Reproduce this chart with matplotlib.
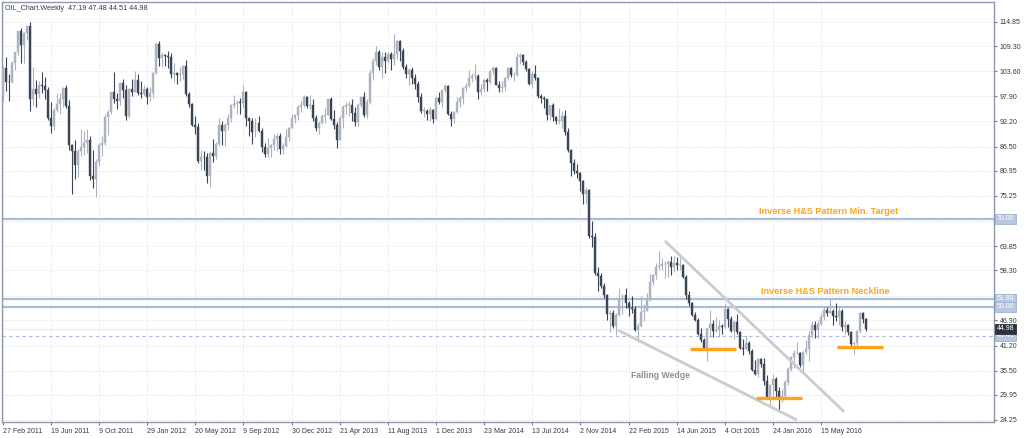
import matplotlib
matplotlib.use("Agg")
import matplotlib.pyplot as plt
import matplotlib.transforms as mtransforms

plt.rcParams['font.family'] = ['Liberation Sans', 'DejaVu Sans']

# weekly OIL candles, first week starts 27 Feb 2011
first_open = 97.9
closes = [
    104.4, 101.2, 101.1, 105.4, 107.9, 112.8, 109.7, 112.3, 113.9, 97.2,
    99.65, 98.4, 100.6, 100.2, 99.3, 93.0, 91.2, 94.9, 96.2, 97.2,
    99.9, 95.7, 86.9, 85.4, 82.3, 85.4, 86.5, 87.2, 88.0, 79.85,
    79.2, 83.0, 86.8, 87.4, 93.3, 94.3, 99.0, 97.4, 96.8, 101.0,
    99.4, 93.5, 99.7, 98.8, 101.6, 98.7, 98.5, 99.6, 97.8, 98.7,
    103.2, 109.8, 106.7, 107.4, 107.1, 106.9, 103.0, 103.3, 102.8, 103.1,
    104.9, 98.5, 96.1, 91.5, 90.9, 83.2, 84.1, 84.0, 79.8, 85.0,
    84.45, 87.1, 91.4, 90.1, 91.4, 92.9, 96.0, 96.2, 96.5, 96.4,
    99.0, 92.9, 92.2, 89.9, 91.9, 90.05, 86.3, 84.9, 86.1, 86.9,
    88.3, 88.9, 85.9, 86.7, 88.7, 90.8, 93.1, 93.6, 95.6, 95.9,
    97.8, 95.7, 95.9, 93.1, 90.7, 91.95, 93.45, 93.7, 97.2, 92.7,
    91.3, 88.0, 93.0, 95.6, 96.0, 96.0, 94.2, 92.0, 96.0, 97.85,
    93.7, 96.6, 103.2, 105.95, 108.05, 104.7, 106.9, 106.0, 107.5, 106.4,
    107.65, 110.5, 108.2, 104.7, 102.9, 103.8, 102.0, 100.8, 97.85, 94.6,
    94.6, 93.8, 94.8, 92.7, 97.65, 96.6, 99.3, 100.3, 93.96, 92.7,
    94.4, 96.6, 97.5, 99.9, 100.3, 102.2, 102.6, 102.6, 98.9, 99.5,
    101.7, 101.1, 103.7, 104.3, 100.6, 99.8, 100.0, 102.0, 104.35, 102.7,
    102.7, 106.9, 107.3, 105.7, 104.1, 100.8, 103.1, 102.1, 97.9, 97.65,
    97.35, 93.65, 95.96, 93.3, 92.3, 92.4, 93.5, 89.7, 85.8, 82.75,
    81.0, 80.5, 78.65, 75.8, 76.5, 66.15, 65.8, 57.8, 57.1, 54.7,
    52.7, 48.4, 48.7, 45.6, 48.2, 51.7, 52.8, 50.8, 49.8, 49.6,
    44.8, 45.7, 48.9, 49.1, 51.6, 55.7, 57.15, 59.15, 59.4, 59.7,
    59.7, 60.3, 59.1, 59.96, 59.6, 59.6, 56.9, 52.7, 50.9, 48.1,
    47.1, 43.9, 42.5, 40.45, 45.2, 46.05, 44.6, 44.7, 45.7, 45.5,
    49.6, 47.3, 44.6, 46.6, 44.3, 40.7, 40.4, 41.7, 39.97, 35.6,
    34.7, 38.1, 37.0, 33.2, 29.4, 32.2, 33.6, 30.9, 29.4, 29.6,
    32.8, 35.9, 38.5, 39.4, 39.5, 36.8, 39.7, 40.4, 43.7, 45.9,
    44.7, 46.2, 47.75, 49.3, 48.6, 49.1, 47.98, 47.6, 48.99, 45.4,
    45.95, 44.2, 41.6, 41.8, 44.5, 48.5, 47.19, 44.98,
]
highs = [
    104.9, 106.95, 103.0, 106.0, 108.0, 112.9, 113.5, 112.5, 114.0, 114.8,
    104.6, 101.6, 101.5, 103.4, 102.4, 100.0, 96.6, 95.3, 98.7, 98.7,
    100.0, 100.6, 97.0, 87.0, 88.0, 86.0, 90.5, 90.0, 90.5, 88.9,
    85.6, 83.6, 87.4, 89.0, 94.0, 94.7, 99.0, 103.4, 98.6, 101.2,
    101.8, 100.6, 99.8, 101.8, 103.7, 103.0, 101.5, 100.4, 100.0, 100.0,
    103.4, 109.95, 110.55, 108.0, 107.5, 108.3, 107.7, 105.5, 103.5, 104.7,
    105.0, 106.3, 98.9, 96.4, 93.4, 91.8, 85.6, 85.5, 85.0, 85.4,
    88.1, 87.5, 92.9, 92.2, 91.8, 94.0, 96.2, 98.3, 97.0, 97.6,
    100.4, 99.2, 93.0, 93.0, 93.0, 93.4, 90.6, 87.4, 88.5, 87.0,
    89.3, 89.6, 89.5, 87.4, 90.5, 91.0, 93.8, 94.0, 96.0, 96.9,
    98.2, 98.0, 98.2, 97.4, 93.6, 92.2, 93.9, 95.3, 97.3, 97.8,
    94.9, 92.0, 93.5, 95.9, 96.6, 96.8, 97.4, 95.6, 96.5, 97.9,
    99.0, 97.2, 103.9, 106.6, 109.3, 108.5, 108.0, 107.9, 108.0, 107.9,
    112.2, 110.7, 110.8, 108.9, 105.3, 104.3, 104.6, 103.0, 101.3, 98.6,
    95.4, 95.0, 95.5, 95.0, 97.9, 98.8, 99.4, 100.8, 100.5, 94.5,
    94.6, 97.8, 98.0, 100.0, 101.0, 103.8, 103.2, 105.2, 102.9, 100.8,
    101.8, 102.0, 104.0, 104.9, 104.6, 101.3, 101.4, 102.3, 104.5, 104.6,
    103.5, 107.7, 107.7, 107.5, 106.2, 104.4, 103.7, 105.0, 102.3, 98.5,
    98.1, 97.4, 96.0, 96.3, 93.5, 95.2, 94.6, 94.9, 90.6, 86.0,
    83.7, 82.6, 80.8, 78.9, 77.2, 76.9, 69.6, 66.7, 59.0, 57.8,
    55.5, 53.0, 49.3, 49.2, 48.6, 54.2, 53.0, 54.2, 51.3, 52.5,
    50.3, 46.3, 52.5, 50.7, 53.1, 57.4, 57.4, 59.9, 62.6, 61.2,
    60.5, 60.6, 61.6, 61.6, 61.3, 61.3, 59.7, 57.2, 53.5, 51.0,
    48.9, 47.4, 45.2, 42.8, 45.3, 49.3, 46.9, 47.7, 47.1, 46.0,
    50.9, 49.7, 47.9, 47.0, 48.4, 44.6, 42.7, 43.5, 42.3, 40.4,
    38.0, 38.3, 38.4, 38.4, 34.6, 32.4, 34.8, 34.0, 31.7, 31.3,
    33.3, 36.2, 38.7, 40.2, 41.9, 39.8, 39.9, 42.4, 44.5, 46.8,
    46.7, 47.0, 48.6, 50.2, 50.0, 51.7, 49.4, 50.8, 49.9, 49.4,
    46.7, 46.1, 44.6, 42.0, 44.8, 48.75, 48.9, 47.48,
]
lows = [
    96.9, 99.2, 96.8, 101.0, 103.9, 107.3, 105.5, 105.4, 110.8, 94.6,
    96.0, 95.6, 97.5, 98.6, 97.3, 92.5, 89.6, 90.3, 94.4, 93.8,
    95.6, 95.3, 85.6, 75.7, 79.2, 79.5, 84.3, 84.6, 85.0, 78.9,
    77.1, 74.95, 82.1, 84.4, 86.8, 89.2, 94.0, 96.3, 95.0, 96.0,
    97.5, 92.5, 93.1, 98.0, 98.8, 98.3, 97.5, 97.9, 96.1, 96.8,
    97.6, 103.0, 104.8, 104.5, 104.8, 104.4, 102.1, 101.2, 100.7, 101.5,
    101.9, 98.0, 95.4, 91.2, 89.3, 82.8, 81.2, 81.1, 78.2, 77.3,
    82.9, 83.6, 86.7, 86.9, 86.7, 90.3, 92.1, 95.3, 93.8, 93.9,
    95.5, 91.2, 88.9, 87.0, 88.6, 89.7, 85.3, 84.1, 84.1, 84.05,
    85.6, 85.5, 84.9, 84.7, 86.5, 87.8, 90.6, 91.9, 92.6, 94.4,
    95.4, 95.2, 95.0, 92.2, 90.1, 89.3, 91.7, 91.8, 93.6, 92.5,
    90.5, 86.1, 87.9, 90.6, 93.9, 93.4, 92.4, 91.1, 91.2, 95.5,
    93.3, 93.1, 96.2, 101.6, 105.1, 103.8, 102.2, 103.2, 105.4, 103.9,
    105.1, 106.4, 105.9, 104.2, 102.2, 100.6, 100.8, 99.7, 96.7, 94.1,
    93.2, 92.5, 92.2, 91.8, 92.5, 96.1, 95.3, 98.8, 93.7, 91.2,
    91.8, 94.1, 95.6, 96.1, 99.0, 100.0, 101.2, 101.7, 97.4, 98.2,
    98.9, 99.2, 100.7, 103.1, 100.5, 98.9, 98.8, 99.2, 101.7, 102.3,
    101.4, 102.6, 105.3, 105.1, 103.6, 100.5, 99.8, 101.7, 97.5, 96.5,
    95.2, 92.5, 92.5, 92.4, 91.7, 91.6, 90.6, 89.2, 85.2, 79.8,
    80.3, 79.4, 76.4, 73.3, 73.6, 65.7, 63.7, 57.3, 53.6, 54.3,
    52.0, 47.0, 44.2, 45.2, 43.6, 48.0, 48.4, 49.8, 48.0, 48.6,
    44.6, 42.0, 45.4, 46.7, 49.0, 51.4, 54.9, 56.3, 58.3, 58.3,
    56.5, 56.9, 57.3, 58.0, 58.5, 58.3, 56.5, 51.7, 50.2, 47.9,
    46.7, 43.6, 42.0, 40.2, 37.75, 43.2, 43.2, 44.2, 43.2, 43.9,
    45.3, 45.5, 44.2, 42.6, 43.9, 40.5, 39.0, 40.3, 39.3, 35.3,
    34.5, 34.0, 36.4, 32.1, 29.1, 27.6, 29.3, 29.3, 26.05, 28.3,
    29.5, 32.3, 35.3, 36.1, 39.2, 36.3, 35.2, 39.3, 37.6, 42.9,
    43.0, 43.0, 45.8, 47.1, 47.9, 48.5, 45.9, 46.7, 45.8, 44.4,
    43.8, 43.6, 40.6, 39.2, 41.2, 44.0, 46.3, 44.51,
]
opens = [first_open] + closes[:-1]

date_labels = ["27 Feb 2011", "19 Jun 2011", "9 Oct 2011", "29 Jan 2012", "20 May 2012",
               "9 Sep 2012", "30 Dec 2012", "21 Apr 2013", "11 Aug 2013", "1 Dec 2013",
               "23 Mar 2014", "13 Jul 2014", "2 Nov 2014", "22 Feb 2015", "14 Jun 2015",
               "4 Oct 2015", "24 Jan 2016", "15 May 2016"]
date_pos = [16 * k for k in range(len(date_labels))]

price_ticks = [24.25, 29.95, 35.50, 41.20, 46.90, 58.30, 63.85, 75.25, 80.95,
               86.50, 92.20, 97.90, 103.60, 109.30, 114.85]
hidden_ticks = [52.56, 69.55]

levels = [70.00, 51.80, 50.00]
bid = 43.42
last = 44.98

bull_col = "#aab3be"
bear_col = "#3a4656"
level_col = "#a9bddb"
orange = "#ffa31a"

fig = plt.figure(figsize=(10.24, 4.38), dpi=100)
ax = fig.add_axes([1.7 / 1024, 16 / 438, 992.3 / 1024, 420.3 / 438])
ax.set_xlim(-0.37, 329.5)
ax.set_ylim(23.79, 119.46)

# grid
for p in price_ticks + hidden_ticks:
    ax.axhline(p, color="#e4e4e4", lw=0.6, dashes=(2, 2), zorder=0)
for d in date_pos:
    ax.axvline(d, color="#e4e4e4", lw=0.6, dashes=(2, 2), zorder=0)

# candles
for i in range(len(closes)):
    o, h, l, c = opens[i], highs[i], lows[i], closes[i]
    col = bull_col if c >= o else bear_col
    ax.vlines(i, l, h, color=col, lw=0.8, zorder=3)
    ax.bar(i, max(abs(c - o), 0.15), bottom=min(o, c), width=0.66,
           color=col, edgecolor=col, lw=0.3, zorder=4)

# horizontal levels
for lv in levels:
    ax.axhline(lv, color=level_col, lw=1.6, zorder=2)
ax.axhline(last, color="#ececec", lw=0.8, zorder=1)
ax.axhline(bid, color=level_col, lw=0.8, dashes=(3, 3), zorder=2)

# falling wedge lines
ax.plot([220.1, 279.7], [65.0, 26.1], color="#cccccc", lw=2, zorder=5, solid_capstyle="butt")
ax.plot([204.5, 264.0], [44.7, 24.25], color="#cccccc", lw=2, zorder=5, solid_capstyle="butt")

# support lines
for x0, x1, y in [(228.5, 243.8, 40.35), (250.4, 265.7, 29.2), (277.3, 292.6, 40.8)]:
    ax.plot([x0, x1], [y, y], color=orange, lw=2.4, zorder=6, solid_capstyle="butt")

ax.text(251.4, 71.7, "Inverse H&S Pattern Min. Target", color=orange, fontsize=6.6,
        fontweight="bold", ha="left", va="center")
ax.text(252.1, 53.6, "Inverse H&S Pattern Neckline", color=orange, fontsize=6.6,
        fontweight="bold", ha="left", va="center")
ax.text(208.8, 34.3, "Falling Wedge", color="#8f8f8f", fontsize=6.2,
        fontweight="bold", ha="left", va="center")

# axes
for s in ax.spines.values():
    s.set_color("#8e9aa8")
    s.set_linewidth(1.0)
ax.yaxis.tick_right()
ax.set_yticks(price_ticks + hidden_ticks)
ax.set_yticklabels(["%.2f" % p for p in price_ticks] + ["", ""])
ax.tick_params(axis="y", length=2.5, width=0.8, color="#6f7b88", labelsize=5,
               labelcolor="#3a3a3a", pad=1.5)
ax.set_xticks(date_pos)
ax.set_xticklabels(date_labels)
ax.tick_params(axis="x", length=2.5, width=0.8, color="#6f7b88", labelsize=5,
               labelcolor="#3a3a3a", pad=2)
for t in ax.get_xticklabels():
    t.set_horizontalalignment("left")

trans = mtransforms.blended_transform_factory(ax.transAxes, ax.transData)
for lv in levels + [bid]:
    ax.text(1.0025, lv, "%.2f" % lv, transform=trans, fontsize=5, color="white",
            ha="left", va="center", zorder=10,
            bbox=dict(boxstyle="square,pad=0.25", fc="#b6c7df", ec="#9db2d2", lw=0.6))
ax.text(1.0025, last, "%.2f" % last, transform=trans, fontsize=5, color="white",
        ha="left", va="center", zorder=11,
        bbox=dict(boxstyle="square,pad=0.25", fc="#2b333d", ec="#2b333d", lw=0.6))

fig.text(5 / 1024, 1 - 8 / 438, "OIL_Chart.Weekly  47.19 47.48 44.51 44.98",
         fontsize=5.2, color="#3a3a3a", ha="left", va="center")

fig.savefig("out.png", dpi=100)
